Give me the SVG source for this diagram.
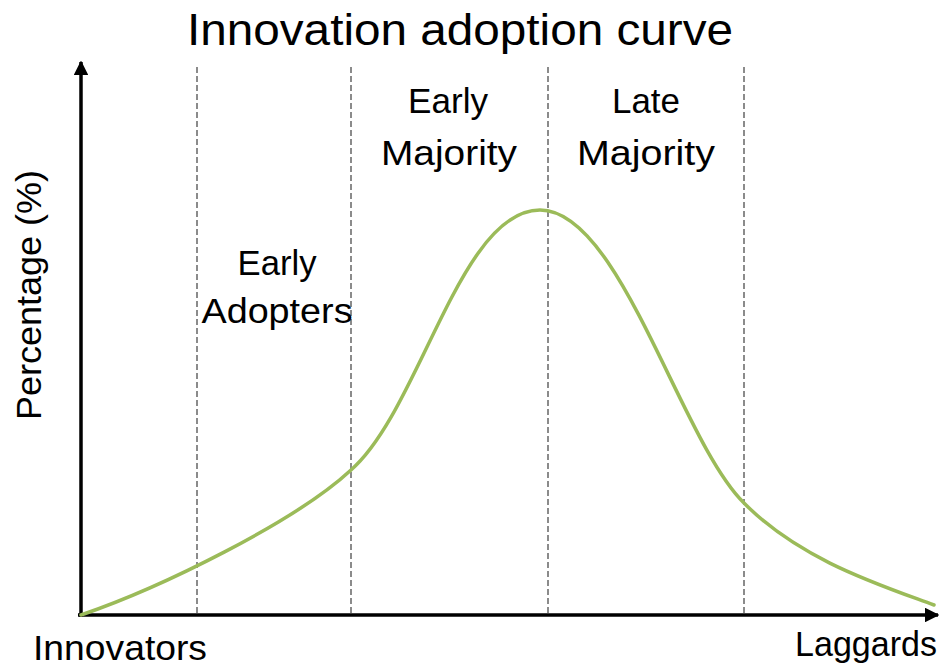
<svg xmlns="http://www.w3.org/2000/svg" width="941" height="669" viewBox="0 0 941 669">
<defs>
<style>
text{font-family:"Liberation Sans",Arial,sans-serif;fill:#000;}
.lbl{font-size:35px;}
.div{stroke:#6f6f6f;stroke-width:1.6;stroke-dasharray:6,3;fill:none;}
.axis{stroke:#000;stroke-width:3.5;fill:none;}
.curve{stroke:#9bbb59;stroke-width:3.5;fill:none;stroke-linecap:round;}
</style>
<marker id="arr" viewBox="0 0 10 10" refX="9" refY="5" markerWidth="4.2" markerHeight="4.2" orient="auto" markerUnits="strokeWidth">
<path d="M0,0 L10,5 L0,10 z" fill="#000"/>
</marker>
</defs>
<rect width="941" height="669" fill="#fff"/>
<g id="title"><text x="460" y="45" font-size="44" text-anchor="middle" textLength="546" lengthAdjust="spacingAndGlyphs">Innovation adoption curve</text></g>
<g id="dividers">
<line class="div" x1="197" y1="67" x2="197" y2="614"/>
<line class="div" x1="351" y1="67" x2="351" y2="614"/>
<line class="div" x1="548" y1="67" x2="548" y2="614"/>
<line class="div" x1="744" y1="67" x2="744" y2="614"/>
</g>
<g id="connectors">
<line class="axis" x1="81" y1="617" x2="81" y2="62" marker-end="url(#arr)"/>
<line class="axis" x1="78" y1="615" x2="938" y2="615" marker-end="url(#arr)"/>
</g>
<g id="adoption-curve">
<path class="curve" d="M81,615 C160,588 295,522 351,470 C420,410 460,210 540,210 C620,210 680,440 744,503 C800,560 880,585 934,605"/>
</g>
<g id="early-adopters">
<text class="lbl" x="277" y="275" text-anchor="middle" textLength="79" lengthAdjust="spacingAndGlyphs">Early</text>
<text class="lbl" x="277" y="323" text-anchor="middle" textLength="151" lengthAdjust="spacingAndGlyphs">Adopters</text>
</g>
<g id="early-majority">
<text class="lbl" x="448" y="113" text-anchor="middle" textLength="80" lengthAdjust="spacingAndGlyphs">Early</text>
<text class="lbl" x="449" y="165" text-anchor="middle" textLength="136" lengthAdjust="spacingAndGlyphs">Majority</text>
</g>
<g id="late-majority">
<text class="lbl" x="646" y="113" text-anchor="middle" textLength="68" lengthAdjust="spacingAndGlyphs">Late</text>
<text class="lbl" x="646" y="165" text-anchor="middle" textLength="138" lengthAdjust="spacingAndGlyphs">Majority</text>
</g>
<g id="innovators"><text class="lbl" x="33" y="660" textLength="174" lengthAdjust="spacingAndGlyphs">Innovators</text></g>
<g id="laggards"><text class="lbl" x="795" y="656" textLength="142" lengthAdjust="spacingAndGlyphs">Laggards</text></g>
<g id="y-label"><text class="lbl" transform="translate(41,295) rotate(-90)" text-anchor="middle" textLength="250" lengthAdjust="spacingAndGlyphs">Percentage (%)</text></g>
</svg>
